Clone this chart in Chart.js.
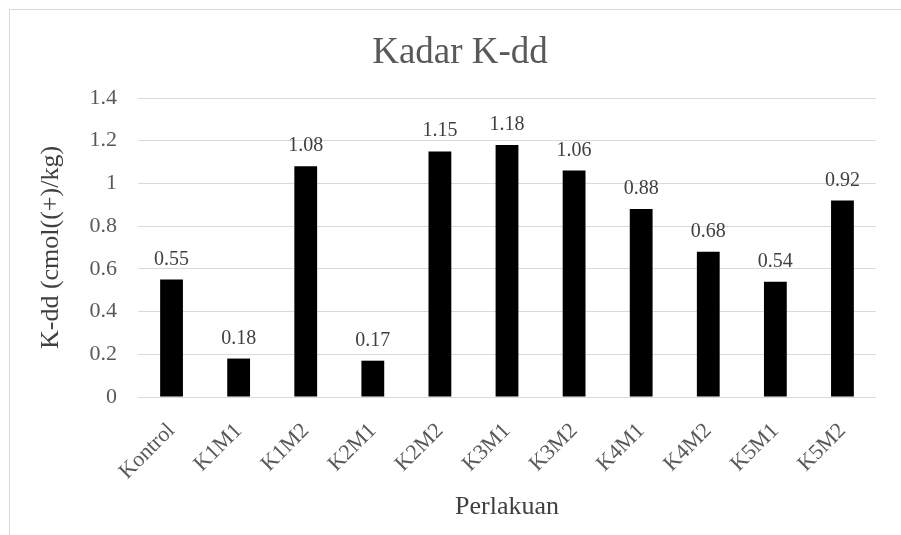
<!DOCTYPE html>
<html lang="id">
<head>
    <meta charset="UTF-8">
    <title>Kadar K-dd</title>
    <script src="https://cdn.jsdelivr.net/npm/chart.js"></script>
    <style>
        html, body {
            margin: 0;
            padding: 0;
            background: #ffffff;
            overflow: hidden;
        }
        .frame {
            position: absolute;
            left: 9px;
            top: 9px;
            width: 920px;
            height: 560px;
            border: 1px solid #d9d9d9;
        }
        .chart-box {
            position: absolute;
            left: 0;
            top: 0;
            width: 901px;
            height: 535px;
        }
    </style>
</head>
<body>
    <div class="frame"></div>
    <div class="chart-box">
        <canvas id="kddChart"></canvas>
    </div>

    <script>
        // Data K-dd per perlakuan
        const categories = ['Kontrol', 'K1M1', 'K1M2', 'K2M1', 'K2M2', 'K3M1', 'K3M2', 'K4M1', 'K4M2', 'K5M1', 'K5M2'];
        const kddValues = [0.55, 0.18, 1.08, 0.17, 1.15, 1.18, 1.06, 0.88, 0.68, 0.54, 0.92];
        const yTicks = [0, 0.2, 0.4, 0.6, 0.8, 1, 1.2, 1.4];

        const serif = "'Liberation Serif', 'Times New Roman', serif";

        // Judul grafik
        const titlePlugin = {
            id: 'chartTitle',
            afterDraw(chart) {
                const ctx = chart.ctx;
                ctx.save();
                ctx.font = '37px ' + serif;
                ctx.fillStyle = '#595959';
                ctx.textAlign = 'center';
                ctx.textBaseline = 'alphabetic';
                ctx.fillText('Kadar K-dd', 460, 63);
                ctx.restore();
            }
        };

        // Label nilai di atas batang
        const valueLabels = {
            id: 'valueLabels',
            afterDatasetsDraw(chart) {
                const ctx = chart.ctx;
                const meta = chart.getDatasetMeta(0);
                ctx.save();
                ctx.font = '20px ' + serif;
                ctx.fillStyle = '#404040';
                ctx.textAlign = 'center';
                ctx.textBaseline = 'alphabetic';
                meta.data.forEach((bar, i) => {
                    ctx.fillText(String(kddValues[i]), bar.x, bar.y - 15);
                });
                ctx.restore();
            }
        };

        new Chart(document.getElementById('kddChart'), {
            type: 'bar',
            data: {
                labels: categories,
                datasets: [{
                    label: 'K-dd',
                    data: kddValues,
                    backgroundColor: '#000000',
                    borderWidth: 0,
                    barPercentage: 0.34,
                    categoryPercentage: 1
                }]
            },
            options: {
                responsive: true,
                maintainAspectRatio: false,
                animation: false,
                layout: {
                    padding: { left: 32, right: 25, top: 98, bottom: 0 }
                },
                plugins: {
                    legend: { display: false },
                    tooltip: { enabled: false }
                },
                scales: {
                    x: {
                        grid: { display: false, drawTicks: false },
                        border: { display: false },
                        afterFit: (scale) => { scale.height = 138; },
                        ticks: {
                            color: '#595959',
                            font: { family: serif, size: 22 },
                            minRotation: 45,
                            maxRotation: 45,
                            padding: 21,
                            autoSkip: false
                        },
                        title: {
                            display: true,
                            text: 'Perlakuan',
                            color: '#404040',
                            font: { family: serif, size: 26 },
                            padding: { top: 4, bottom: 12 }
                        }
                    },
                    y: {
                        min: 0,
                        max: 1.4,
                        afterFit: (scale) => { scale.width = 106; },
                        afterBuildTicks: (scale) => {
                            scale.ticks = yTicks.map(v => ({ value: v }));
                        },
                        grid: { color: '#d9d9d9', lineWidth: 1, drawTicks: false },
                        border: { display: false },
                        ticks: {
                            color: '#595959',
                            font: { family: serif, size: 22 },
                            padding: 21,
                            callback: (v) => String(Math.round(v * 10) / 10)
                        },
                        title: {
                            display: true,
                            text: 'K-dd (cmol((+)/kg)',
                            color: '#404040',
                            font: { family: serif, size: 26 },
                            padding: { top: 4, bottom: 4 }
                        }
                    }
                }
            },
            plugins: [titlePlugin, valueLabels]
        });
    </script>
</body>
</html>
